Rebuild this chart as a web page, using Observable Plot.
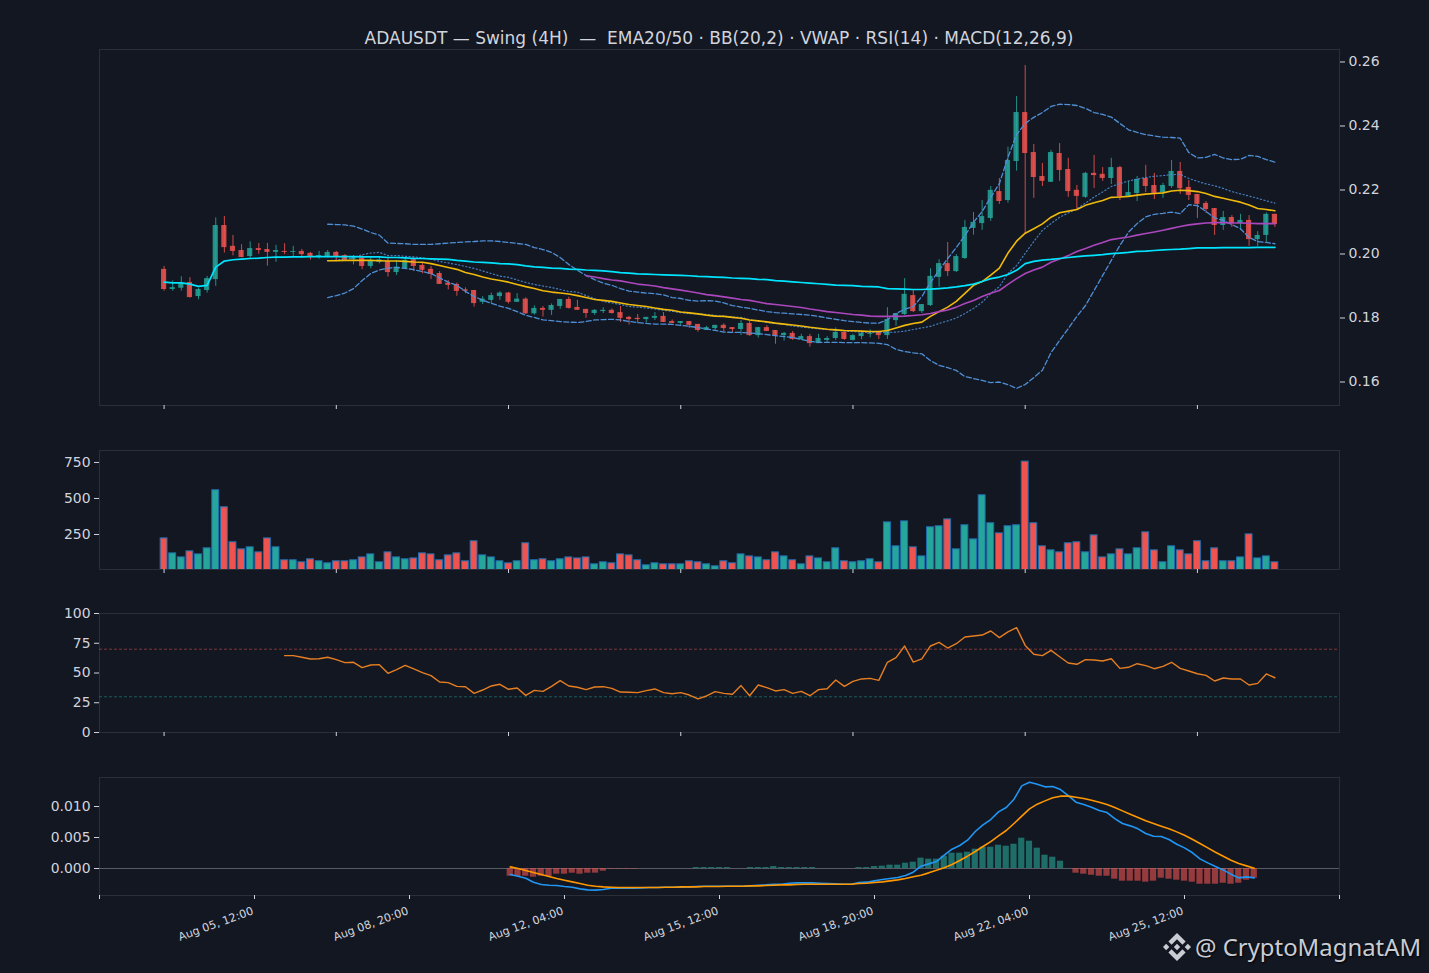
<!DOCTYPE html>
<html><head><meta charset="utf-8">
<script src="https://cdn.jsdelivr.net/npm/d3@7"></script>
<script src="https://cdn.jsdelivr.net/npm/@observablehq/plot@0.6"></script>
<style>
html,body{margin:0;padding:0;background:#131722;}
#root{position:relative;width:1429px;height:973px;overflow:hidden;background:#131722;font-family:"DejaVu Sans",sans-serif;}
#title{position:absolute;left:0;width:1438px;top:27.5px;text-align:center;color:#d1d4dc;font-size:17px;white-space:pre;line-height:20px;}
#mark{position:absolute;left:1195px;top:930px;color:#c9ccd3;font-size:23.9px;line-height:34px;font-family:"Noto Sans",sans-serif;white-space:pre;text-shadow:1px 1px 2px #000;}
#logo{position:absolute;left:1163px;top:933px;width:28px;height:28px;}
</style></head><body><div id="root">
<div id="title">ADAUSDT — Swing (4H)  —  EMA20/50 · BB(20,2) · VWAP · RSI(14) · MACD(12,26,9)</div>
<svg id="logo" viewBox="0 0 126.61 126.61"><path fill="#c9ccd3" d="M38.73 53.2l24.59-24.58 24.6 24.6 14.3-14.31L63.32 0 24.43 38.9z M0 63.31L14.3 49l14.31 14.31-14.31 14.3z M38.73 73.41l24.59 24.59 24.6-24.6 14.31 14.29-38.9 38.91-38.91-38.88z M98 63.31L112.3 49l14.3 14.3-14.3 14.32z M77.83 63.3L63.32 48.78 52.59 59.51l-1.24 1.23-2.54 2.54 14.51 14.5 14.51-14.47z"/></svg>
<div id="mark">@ CryptoMagnatAM</div>
</div>
<script>
const open=[.1952,.1889,.1893,.1911,.1867,.1886,.1920,.2089,.2024,.2011,
.1992,.2017,.2014,.2005,.2008,.2005,.2008,.2002,.1990,.1990,
.2005,.1995,.1982,.1987,.1961,.1974,.1977,.1942,.1954,.1982,
.1964,.1952,.1939,.1909,.1905,.1888,.1886,.1849,.1855,.1867,
.1878,.1849,.1859,.1813,.1830,.1824,.1836,.1858,.1833,.1827,
.1814,.1820,.1824,.1817,.1802,.1799,.1795,.1799,.1805,.1789,
.1783,.1789,.1780,.1761,.1767,.1777,.1770,.1764,.1783,.1745,
.1770,.1761,.1745,.1752,.1733,.1742,.1720,.1730,.1736,.1755,
.1730,.1742,.1749,.1755,.1745,.1792,.1811,.1870,.1820,.1839,
.1927,.1970,.1945,.1986,.2080,.2095,.2111,.2195,.2167,.2289,
.2442,.2317,.2242,.2224,.2314,.2264,.2199,.2177,.2252,.2249,
.2236,.2270,.2180,.2189,.2236,.2214,.2192,.2211,.2258,.2208,
.2186,.2158,.2142,.2089,.2114,.2095,.2105,.2045,.2058,.2124];
const close=[.1889,.1895,.1907,.1864,.1889,.1923,.2089,.2020,.2008,.1989,
.2017,.2011,.2005,.2011,.2005,.2008,.1998,.1992,.1995,.2005,
.1992,.1982,.1988,.1961,.1980,.1982,.1942,.1959,.1980,.1961,
.1949,.1936,.1905,.1902,.1883,.1883,.1845,.1859,.1870,.1878,
.1849,.1859,.1813,.1830,.1824,.1839,.1858,.1830,.1824,.1814,
.1824,.1824,.1814,.1799,.1795,.1795,.1802,.1805,.1786,.1783,
.1789,.1777,.1761,.1770,.1777,.1767,.1764,.1783,.1745,.1770,
.1758,.1745,.1752,.1733,.1742,.1720,.1736,.1736,.1755,.1733,
.1745,.1752,.1752,.1745,.1795,.1814,.1874,.1820,.1842,.1930,
.1970,.1945,.1992,.2083,.2099,.2117,.2199,.2164,.2292,.2442,
.2314,.2239,.2227,.2317,.2261,.2195,.2180,.2252,.2245,.2236,
.2270,.2177,.2192,.2233,.2211,.2189,.2214,.2258,.2204,.2183,
.2155,.2139,.2089,.2114,.2095,.2105,.2045,.2058,.2124,.2092];
const high=[.1961,.1916,.1929,.1926,.1893,.1930,.2113,.2117,.2058,.2029,
.2038,.2033,.2033,.2027,.2032,.2024,.2014,.2005,.2008,.2011,
.2008,.1998,.1995,.1995,.1990,.1992,.1987,.1980,.1990,.1990,
.1971,.1961,.1945,.1917,.1909,.1894,.1886,.1867,.1878,.1882,
.1880,.1876,.1863,.1838,.1836,.1844,.1858,.1865,.1855,.1827,
.1826,.1832,.1828,.1836,.1805,.1811,.1802,.1817,.1817,.1794,
.1789,.1789,.1780,.1774,.1777,.1782,.1770,.1792,.1789,.1771,
.1776,.1761,.1755,.1758,.1749,.1749,.1749,.1742,.1769,.1755,
.1749,.1755,.1763,.1758,.1832,.1814,.1923,.1888,.1842,.1954,
.1982,.2036,.1998,.2105,.2130,.2167,.2211,.2236,.2334,.2492,
.2589,.2342,.2283,.2324,.2345,.2299,.2214,.2255,.2308,.2270,
.2299,.2274,.2227,.2242,.2277,.2252,.2221,.2292,.2286,.2230,
.2186,.2164,.2142,.2133,.2120,.2124,.2120,.2070,.2128,.2124];
const low=[.1884,.1884,.1884,.1862,.1857,.1878,.1899,.2003,.1994,.1988,
.1984,.1999,.1962,.1974,.1998,.1992,.1987,.1981,.1984,.1988,
.1978,.1977,.1966,.1951,.1954,.1969,.1928,.1933,.1951,.1945,
.1938,.1920,.1905,.1888,.1868,.1876,.1834,.1842,.1844,.1855,
.1844,.1849,.1811,.1809,.1803,.1808,.1827,.1828,.1824,.1799,
.1808,.1814,.1812,.1786,.1778,.1782,.1784,.1792,.1786,.1782,
.1777,.1767,.1756,.1761,.1761,.1756,.1755,.1745,.1743,.1737,
.1758,.1718,.1728,.1730,.1730,.1709,.1720,.1724,.1730,.1730,
.1728,.1732,.1738,.1733,.1733,.1774,.1808,.1817,.1814,.1836,
.1896,.1930,.1942,.1983,.2059,.2074,.2102,.2155,.2159,.2259,
.2064,.2174,.2211,.2224,.2227,.2177,.2139,.2174,.2205,.2227,
.2217,.2167,.2180,.2164,.2192,.2170,.2174,.2205,.2186,.2167,
.2111,.2127,.2058,.2074,.2083,.2074,.2024,.2024,.2037,.2083];
const volume=[223,119,91,133,112,154,557,439,196,147,
161,126,223,161,71,71,57,78,64,50,
64,64,71,91,112,57,126,91,78,84,
119,112,71,105,119,64,203,105,91,64,
50,64,189,71,78,64,78,91,84,91,
43,57,50,112,105,71,36,50,43,43,
43,64,57,43,29,64,50,112,98,91,
71,126,98,71,43,98,84,57,154,64,
57,64,78,57,334,168,341,161,98,300,
307,355,147,314,216,522,328,258,307,314,
756,328,168,140,126,189,196,126,244,91,
112,147,112,154,265,140,57,168,140,112,
203,64,154,64,64,91,251,84,98,57];
const vwap=[.1912,.1910,.1910,.1906,.1899,.1902,.1959,.1978,.1982,.1984,
.1986,.1987,.1989,.1990,.1990,.1991,.1991,.1992,.1992,.1992,
.1992,.1992,.1992,.1991,.1991,.1991,.1989,.1989,.1988,.1986,
.1986,.1985,.1984,.1983,.1980,.1978,.1975,.1974,.1972,.1970,
.1969,.1967,.1963,.1960,.1958,.1956,.1955,.1953,.1952,.1950,
.1949,.1947,.1945,.1942,.1940,.1938,.1937,.1936,.1935,.1934,
.1933,.1932,.1930,.1929,.1928,.1927,.1925,.1924,.1923,.1921,
.1920,.1917,.1915,.1913,.1911,.1909,.1907,.1905,.1903,.1902,
.1901,.1899,.1898,.1897,.1892,.1891,.1890,.1889,.1889,.1890,
.1892,.1894,.1897,.1901,.1906,.1914,.1923,.1928,.1936,.1949,
.1970,.1977,.1981,.1983,.1986,.1989,.1992,.1994,.1996,.1998,
.2001,.2003,.2005,.2008,.2009,.2011,.2013,.2014,.2015,.2017,
.2019,.2019,.2019,.2020,.2020,.2020,.2020,.2021,.2021,.2021];
const ema20Start=19;
const ema20=[.1979,.1979,.1980,.1980,.1980,.1980,.1979,.1978,.1978,.1977,.1975,.1974,.1970,.1964,.1958,
.1952,.1942,.1936,.1928,.1922,.1917,.1912,.1905,.1898,.1892,.1885,.1881,.1878,.1875,.1870,.1864,
.1858,.1855,.1852,.1847,.1842,.1839,.1836,.1831,.1827,.1824,.1819,.1816,.1813,.1809,.1806,.1805,.1802,.1799,
.1794,.1791,.1788,.1784,.1781,.1778,.1775,.1771,.1768,.1765,.1763,.1761,.1760,.1759,.1758,.1758,
.1761,.1769,.1777,.1783,.1787,.1805,.1820,.1834,.1852,.1877,.1902,.1914,.1934,.1956,.2003,.2040,
.2065,.2079,.2094,.2115,.2129,.2134,.2139,.2152,.2160,.2167,.2177,.2178,.2180,.2184,.2187,.2189,
.2191,.2197,.2199,.2198,.2195,.2189,.2180,.2174,.2168,.2162,.2153,.2142,.2139,.2135];
const ema50Start=49;
const ema50=[.1932,.1928,.1923,.1919,.1916,.1911,.1906,.1903,.1900,.1895,.1891,.1887,.1883,.1878,.1873,.1870,.1866,.1862,.1858,
.1855,.1850,.1845,.1842,.1839,.1836,.1833,.1828,.1824,.1820,.1817,.1814,.1811,.1809,.1806,.1805,.1805,.1805,.1806,.1808,.1810,
.1814,.1820,.1825,.1834,.1845,.1855,.1867,.1877,.1886,.1905,.1923,.1939,.1950,.1959,.1974,.1984,.1995,.2008,.2017,.2027,.2036,
.2045,.2049,.2053,.2059,.2064,.2069,.2074,.2080,.2086,.2091,.2094,.2097,.2098,.2098,.2097,.2097,.2096,.2095,.2095,.2095];
const bbStart=19;
const bbUpper=[.2093,.2092,.2091,.2087,.2078,.2067,.2059,.2034,.2033,.2032,.2030,.2030,.2030,.2032,.2034,
.2036,.2038,.2039,.2041,.2041,.2039,.2036,.2033,.2030,.2020,.2014,.2005,.1989,.1967,.1949,.1933,
.1920,.1909,.1902,.1892,.1884,.1881,.1878,.1876,.1872,.1864,.1861,.1855,.1853,.1854,.1853,.1847,.1839,.1834,
.1830,.1825,.1820,.1817,.1815,.1813,.1811,.1809,.1805,.1800,.1796,.1792,.1789,.1786,.1784,.1784,
.1795,.1814,.1827,.1836,.1867,.1911,.1949,.1986,.2020,.2058,.2099,.2133,.2177,.2220,.2302,.2373,
.2408,.2427,.2442,.2461,.2468,.2467,.2464,.2455,.2442,.2436,.2428,.2408,.2388,.2380,.2373,.2369,
.2365,.2364,.2362,.2317,.2300,.2302,.2311,.2300,.2295,.2296,.2308,.2305,.2295,.2287];
const bbMid=[.1979,.1981,.1984,.1989,.1998,.2003,.2005,.1995,.1995,.1993,.1991,.1988,.1984,.1977,.1972,
.1967,.1961,.1955,.1947,.1939,.1931,.1927,.1919,.1911,.1905,.1900,.1895,.1889,.1883,.1881,.1870,
.1861,.1852,.1847,.1842,.1836,.1834,.1831,.1828,.1824,.1821,.1817,.1814,.1813,.1811,.1808,.1806,.1803,.1802,
.1795,.1791,.1786,.1783,.1780,.1775,.1772,.1769,.1766,.1764,.1762,.1759,.1758,.1756,.1755,.1754,
.1755,.1756,.1759,.1764,.1769,.1774,.1783,.1791,.1800,.1814,.1830,.1849,.1877,.1898,.1939,.1964,
.2002,.2039,.2074,.2095,.2115,.2128,.2141,.2159,.2178,.2194,.2211,.2220,.2228,.2234,.2239,.2243,
.2245,.2248,.2249,.2236,.2227,.2219,.2213,.2205,.2195,.2188,.2181,.2174,.2166,.2159];
const bbLower=[.1864,.1870,.1878,.1892,.1917,.1939,.1950,.1956,.1958,.1955,.1951,.1945,.1939,.1925,.1912,
.1902,.1883,.1867,.1856,.1846,.1837,.1830,.1820,.1808,.1802,.1794,.1792,.1789,.1787,.1786,.1789,
.1794,.1795,.1796,.1794,.1789,.1786,.1783,.1781,.1781,.1780,.1777,.1774,.1770,.1766,.1761,.1756,.1755,.1755,
.1753,.1751,.1748,.1745,.1742,.1739,.1733,.1727,.1724,.1724,.1724,.1723,.1723,.1723,.1722,.1721,
.1717,.1702,.1695,.1691,.1688,.1667,.1652,.1645,.1636,.1617,.1611,.1605,.1598,.1600,.1592,.1580,
.1592,.1614,.1637,.1692,.1730,.1767,.1805,.1839,.1886,.1933,.1980,.2027,.2068,.2095,.2116,.2124,
.2127,.2131,.2126,.2154,.2151,.2133,.2113,.2105,.2092,.2079,.2052,.2039,.2036,.2032];
const rsiStart=14;
const rsi=[64.6,64.6,63.2,61.8,62.0,63.2,61.2,58.7,59.0,54.5,56.7,57.0,49.7,52.8,56.4,53.4,50.3,47.8,42.4,41.9,
38.8,38.5,32.9,35.7,39.1,40.5,36.3,37.4,31.2,35.4,34.6,38.8,43.6,39.1,38.0,36.0,38.2,38.5,37.1,34.0,
33.8,33.5,35.2,36.6,33.5,32.6,33.5,31.5,28.2,30.7,34.3,32.9,32.1,39.4,30.9,39.9,37.7,34.9,
36.0,32.9,34.6,30.9,36.0,36.8,44.1,38.8,43.0,45.0,45.5,43.8,59.0,62.9,72.7,59.2,61.8,72.7,75.8,71.0,
74.6,80.2,81.1,81.9,85.3,79.7,84.5,88.1,73.2,65.7,64.6,69.0,63.7,58.4,57.3,61.2,60.9,60.1,62.0,53.9,
54.8,57.8,56.2,53.6,55.6,59.0,53.9,51.7,49.4,48.0,43.3,45.8,45.0,45.0,39.9,41.3,49.2,46.0];
const macdStart=33;
const macd=[-.00097,-.00124,-.00156,-.0022,-.00258,-.00269,-.00274,-.0029,-.00301,-.00328,-.00344,-.00349,-.00339,-.00317,-.00317,-.00317,-.00317,
-.00312,-.00306,-.00306,-.00301,-.00301,-.00301,-.00296,-.0029,-.00285,-.00285,-.00285,-.00285,-.00285,-.00285,-.0028,-.00269,-.00263,-.00253,-.00253,-.00237,-.00231,-.00231,-.00231,
-.00237,-.00242,-.00247,-.00253,-.00253,-.00226,-.0022,-.00199,-.00177,-.00161,-.00145,-.00113,-.00059,.00038,.00075,.00113,.00215,.00312,.00371,.00457,.00597,.00704,.0079,.00914,.00984,.01118,.01333,
.01392,.0136,.01317,.01322,.01274,.01177,.0107,.01032,.00989,.00935,.00903,.00806,.00726,.00688,.0064,.00564,.00521,.00516,.00468,.00392,.00333,.00258,.00156,.00091,.00032,-.00022,-.00091,-.00151,-.00134,-.00151];
const signal=[.00027,0,-.00032,-.00065,-.00097,-.00129,-.00161,-.00188,-.00215,-.00242,-.00269,-.00285,-.00296,-.00301,-.00306,-.00306,-.00306,
-.00306,-.00306,-.00306,-.00301,-.00301,-.00296,-.00296,-.00296,-.0029,-.0029,-.0029,-.00285,-.00285,-.00285,-.0028,-.0028,-.00274,-.00269,-.00263,-.00263,-.00258,-.00253,-.00253,
-.00253,-.00253,-.00253,-.00253,-.00253,-.00242,-.00237,-.00226,-.00215,-.00199,-.00183,-.00161,-.00134,-.00108,-.0007,-.00027,.00011,.00065,.00129,.00199,.00274,.00355,.00435,.00527,.00613,.00726,.00844,
.00962,.01038,.01091,.0114,.01167,.01167,.0115,.01129,.01102,.0107,.01032,.00984,.0093,.00876,.00823,.00769,.00726,.00683,.0064,.00591,.00538,.00473,.00403,.00333,.00263,.00199,.00134,.00081,.00043,.00005];
const hist=[-.00124,-.00129,-.00124,-.0014,-.00124,-.00129,-.00091,-.00091,-.00075,-.00091,-.00075,-.00075,-.00043,-.0001,-.0001,-.0001,-.0001,
0,0,0,0,0,0,0,.00016,.00016,.00016,.00016,.00016,0,0,.00016,.00016,.00016,.00032,.00016,.00016,.00016,.00016,.00016,
0,0,0,0,0,.00016,.00016,.00032,.00038,.00054,.00054,.00086,.00102,.00167,.00151,.00151,.00199,.00247,.00247,.00263,.00312,.00344,.00344,.00376,.0036,.00392,.00489,
.00441,.00328,.00215,.00183,.00118,0,-.00075,-.00091,-.00108,-.00124,-.00124,-.00172,-.00204,-.00204,-.00204,-.0022,-.00204,-.00156,-.00172,-.00188,-.00204,-.0022,-.00253,-.00253,-.00253,-.00237,-.00253,-.00237,-.00188,-.00156];
const priceTicks=[.16,.18,.20,.22,.24,.26];
const volumeTicks=[250,500,750];
const rsiTicks=[0,25,50,75,100];
const macdTicks=[0,.005,.01];
const sharedTicks=[0,20,40,60,80,100,120];
const macdXTicks=[-20,0,20,40,60,80,100,120,140];
const timeLabels=["","Aug 05, 12:00","Aug 08, 20:00","Aug 12, 04:00","Aug 15, 12:00","Aug 18, 20:00","Aug 22, 04:00","Aug 25, 12:00",""];

const GREEN="#26a69a",RED="#ef5350",GRID="#2a2e39",TXT="#d1d4dc";
const series=(vals,start=0)=>vals.map((v,k)=>({i:start+k,v}));
const candles=open.map((o,i)=>({i,o,c:close[i],h:high[i],l:low[i],col:close[i]>=o?GREEN:RED}));
const vols=volume.map((v,i)=>({i,v,col:candles[i].col}));
const histo=series(hist,macdStart).map(d=>({...d,col:d.v>=0?GREEN:RED}));
const mainX={type:"linear",domain:[-7.5,136.5]};

function place(plot,top){
  plot.style.position="absolute";plot.style.left="0";plot.style.top=top+"px";plot.style.background="transparent";
  document.getElementById("root").appendChild(plot);
}
const base={width:1429,marginLeft:99,marginRight:90,color:{type:"identity"},
  style:{background:"transparent",color:TXT,fontFamily:"DejaVu Sans",overflow:"visible"}};
const axX=()=>Plot.axisX(sharedTicks,{tickSize:4,tickFormat:()=>"",label:null,anchor:"bottom",stroke:TXT,strokeWidth:1});
const frame=()=>Plot.frame({stroke:GRID,strokeWidth:1});

place(Plot.plot({...base,height:368,marginTop:1,marginBottom:11,
  x:mainX,y:{domain:[.15266,.2639]},
  marks:[
    frame(),
    Plot.ruleX(candles,{x:"i",y1:"l",y2:"h",stroke:"col",strokeWidth:1,strokeOpacity:.85}),
    Plot.rect(candles,{x1:d=>d.i-.3,x2:d=>d.i+.3,y1:"o",y2:"c",fill:"col",fillOpacity:.85}),
    Plot.line(series(bbUpper,bbStart),{x:"i",y:"v",stroke:"#4f8fd6",strokeWidth:1.3,strokeDasharray:"5 2.5"}),
    Plot.line(series(bbLower,bbStart),{x:"i",y:"v",stroke:"#4f8fd6",strokeWidth:1.3,strokeDasharray:"5 2.5"}),
    Plot.line(series(bbMid,bbStart),{x:"i",y:"v",stroke:"#4f8fd6",strokeOpacity:.85,strokeWidth:1.2,strokeDasharray:"1.2 2.4"}),
    Plot.line(series(ema20,ema20Start),{x:"i",y:"v",stroke:"#f0b90b",strokeWidth:1.6}),
    Plot.line(series(ema50,ema50Start),{x:"i",y:"v",stroke:"#ab47bc",strokeWidth:1.6}),
    Plot.line(series(vwap),{x:"i",y:"v",stroke:"#00e5ff",strokeWidth:1.7}),
    axX(),
    Plot.axisY(priceTicks,{anchor:"right",tickSize:5,tickPadding:4,fontSize:14,label:null,tickFormat:d3.format(".2f")})
  ]}),48);

place(Plot.plot({...base,height:132,marginTop:1,marginBottom:12,
  x:mainX,y:{domain:[7,833]},
  marks:[
    frame(),
    Plot.rectY(vols,{x1:d=>d.i-.4,x2:d=>d.i+.4,y:"v",fill:"col",stroke:"#1f6fb0",strokeWidth:1,clip:true}),
    axX(),
    Plot.axisY(volumeTicks,{anchor:"left",tickSize:5,tickPadding:4,fontSize:13.9,label:null})
  ]}),449);

place(Plot.plot({...base,height:131,marginTop:1,marginBottom:11,
  x:mainX,y:{domain:[0,100]},
  marks:[
    frame(),
    Plot.ruleY([70],{stroke:RED,strokeOpacity:.5,strokeWidth:1,strokeDasharray:"3 2"}),
    Plot.ruleY([30],{stroke:GREEN,strokeOpacity:.5,strokeWidth:1,strokeDasharray:"3 2"}),
    Plot.line(series(rsi,rsiStart),{x:"i",y:"v",stroke:"#e67e22",strokeWidth:1.4}),
    axX(),
    Plot.axisY(rsiTicks,{anchor:"left",tickSize:5,tickPadding:4,fontSize:13.9,label:null})
  ]}),612);

place(Plot.plot({...base,height:190,marginTop:1,marginBottom:71,
  x:{type:"linear",domain:[-20,140]},y:{domain:[-.00435,.01468]},
  marks:[
    frame(),
    Plot.ruleY([0],{stroke:"#787b86",strokeOpacity:.7,strokeWidth:1}),
    Plot.rectY(histo,{x1:d=>d.i-.4,x2:d=>d.i+.4,y:"v",fill:"col",fillOpacity:.6}),
    Plot.line(series(macd,macdStart),{x:"i",y:"v",stroke:"#2196f3",strokeWidth:1.6}),
    Plot.line(series(signal,macdStart),{x:"i",y:"v",stroke:"#ff9800",strokeWidth:1.6}),
    Plot.axisX(macdXTicks,{tickSize:4,tickFormat:()=>"",label:null,anchor:"bottom",stroke:TXT}),
    Plot.axisX(macdXTicks,{tickSize:0,tickPadding:15,dx:-1.5,tickRotate:-20,fontSize:11.2,label:null,anchor:"bottom",
      tickFormat:d=>timeLabels[macdXTicks.indexOf(d)]}),
    Plot.axisY(macdTicks,{anchor:"left",tickSize:5,tickPadding:4,fontSize:13.9,label:null,tickFormat:d3.format(".3f")})
  ]}),776);
</script></body></html>
